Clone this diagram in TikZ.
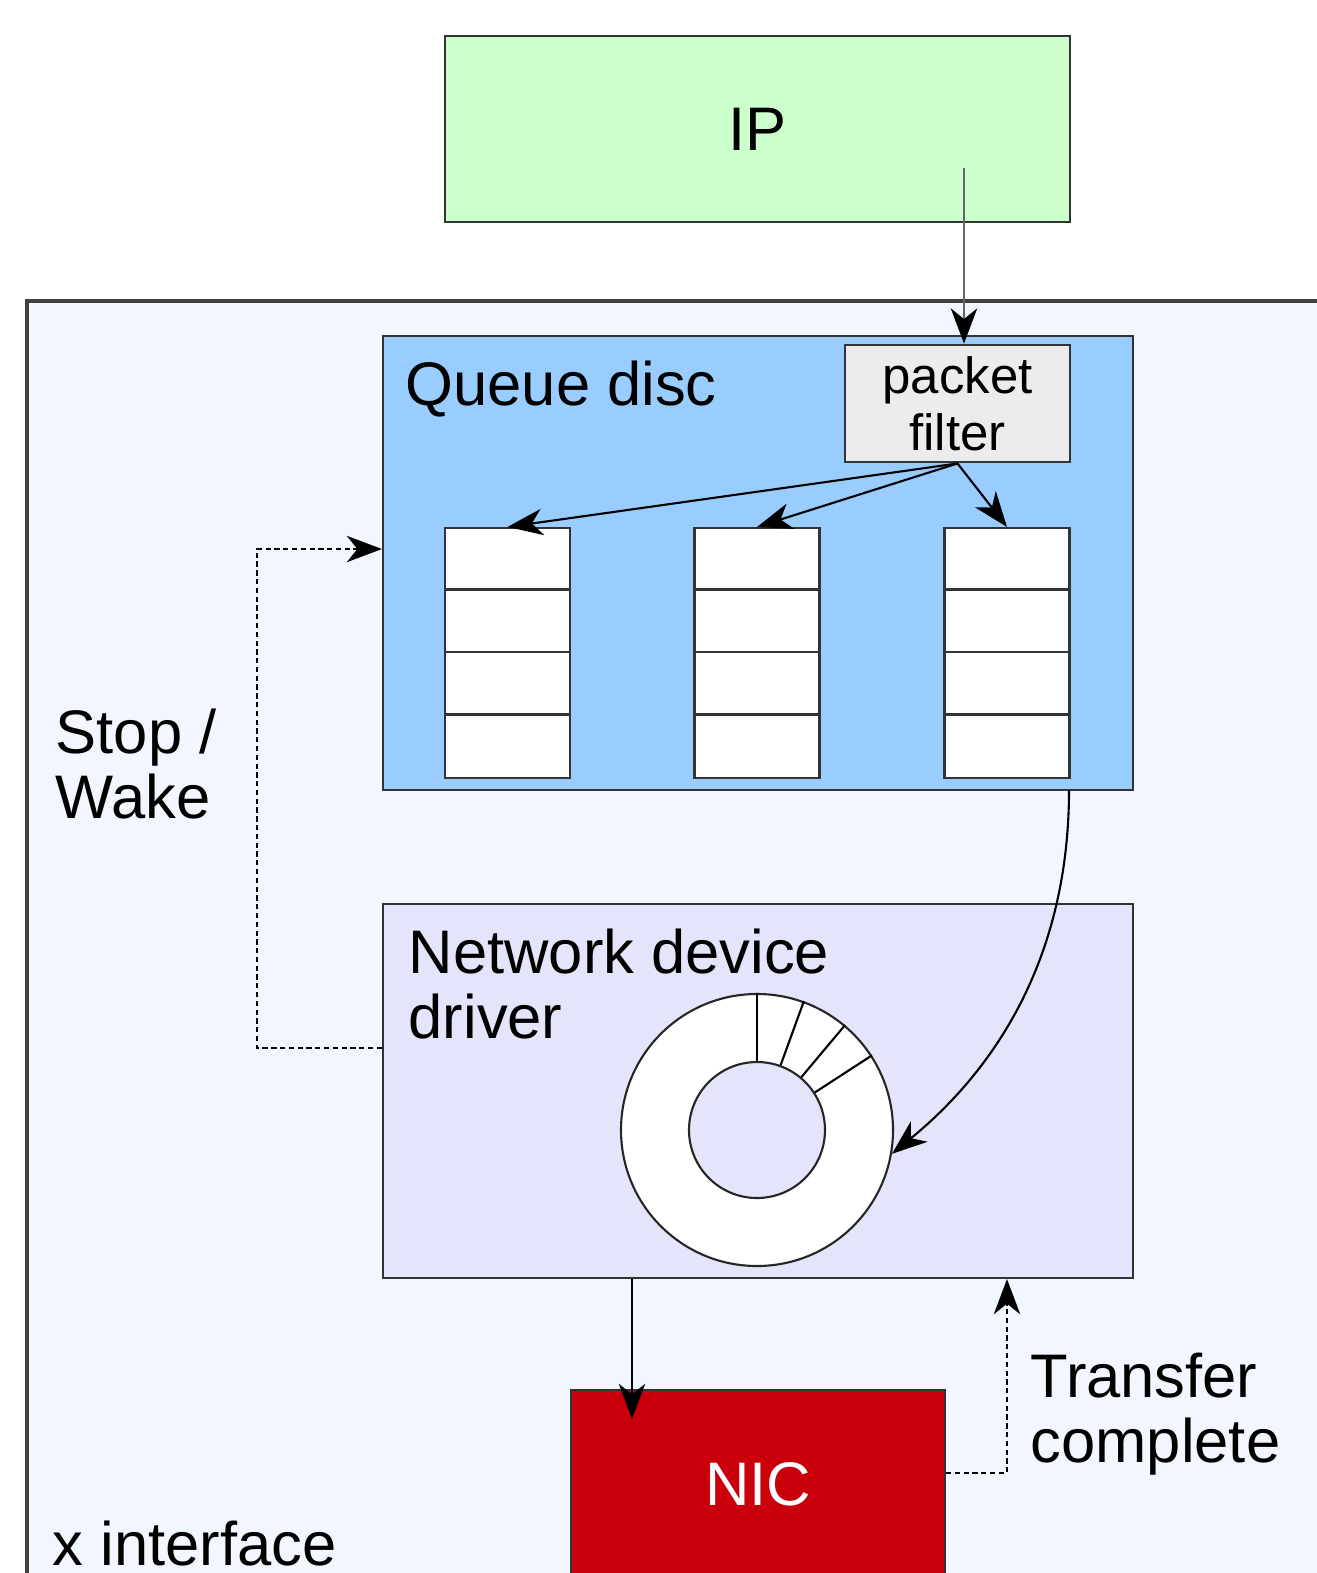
\documentclass[tikz,border=0pt]{standalone}
\usepackage{fontspec}
\setmainfont{Liberation Sans}
\usetikzlibrary{positioning}
\usetikzlibrary{arrows.meta}

\definecolor{ipgreen}{RGB}{204,255,204}
\definecolor{ifaceblue}{RGB}{242,246,254}
\definecolor{qdblue}{RGB}{153,204,255}
\definecolor{filtergray}{RGB}{236,236,236}
\definecolor{drvlilac}{RGB}{228,228,250}
\definecolor{nicred}{RGB}{201,0,12}

\begin{document}
\begin{tikzpicture} [
            box/.style={draw=black!80,rectangle,line width=0.6pt},
            flow/.style={-{Stealth[length=10pt,width=7.5pt,inset=3pt,color=black]},line width=0.6pt},
            sig/.style={-{Stealth[length=10pt,width=7.5pt,inset=3pt]},line width=0.6pt,dash pattern=on 1.5pt off 1pt},
            big/.style={font=\fontsize{17.5}{18.5}\selectfont},
         every node/.append style={align=center}]
\clip (0,0) rectangle (13.17,-15.73);
\draw[draw=black!75,line width=1pt,fill=ifaceblue] (0.27,-3.01) rectangle (14,-17);
\node (ip) at (7.575,-1.29) [box,fill=ipgreen,minimum width=6.25cm,minimum height=1.86cm,big] {IP}
node (qdisc) at (7.58,-5.63) [box,fill=qdblue,minimum width=7.5cm,minimum height=4.54cm] {}
node (pfilter) at (9.575,-4.035) [box,fill=filtergray,minimum width=2.25cm,minimum height=1.11cm,font=\fontsize{14.5}{16.2}\selectfont] {packet\\filter}
node (ndd) at (7.58,-10.91) [box,fill=drvlilac,minimum width=7.5cm,minimum height=3.74cm] {}
node (nic) at (7.58,-14.84) [box,fill=nicred,minimum width=3.74cm,minimum height=1.88cm,text=white,big] {NIC}
;
\foreach \i/\x in {1/5.075,2/7.57,3/10.07} {
  \node (q\i) at (\x,-6.53) [box,fill=white,minimum width=1.25cm,minimum height=2.5cm] {};
  \foreach \k in {1,2,3}
    \draw[black!80,line width=0.6pt] ([yshift=-\k*0.625cm]q\i.north west) -- ([yshift=-\k*0.625cm]q\i.north east);
}
\node (ring) at (7.57,-11.30) [circle,draw=black!85,fill=white,line width=0.6pt,minimum size=2.72cm] {};
\node (hub) at (ring.center) [circle,draw=black!85,fill=drvlilac,line width=0.6pt,minimum size=1.36cm] {};
\foreach \a in {90,70,50,33} \draw[line width=0.6pt] (hub.\a) -- (ring.\a);

\node (qlabel) at (4.05,-4.05) [anchor=base west,inner sep=0,big] {Queue disc};
\node (nlabel) at (4.08,-9.28) [anchor=north west,inner sep=0,big,align=left] {Network device\\driver};
\node (stop) at (0.55,-7.08) [anchor=north west,inner sep=0,big,align=left] {Stop /\\Wake};
\node (xfer) at (10.30,-13.52) [anchor=north west,inner sep=0,big,align=left] {Transfer\\complete};
\node (xif) at (0.52,-15.65) [anchor=base west,inner sep=0,big] {x interface};

\coordinate (ipout) at (9.64,-1.68);
\draw[flow,draw=black!60] (ipout) -- (ipout |- pfilter.north);
\foreach \i in {1,2,3} \draw[flow] (pfilter.south) -- (q\i.north);
\coordinate (qout) at (10.69,-7.90);
\draw[flow] (qout) .. controls +(0,-1.6) and +(1.1,0.9) .. (ring.350);
\draw[sig] ([yshift=0.43cm]ndd.west) -- ++(-1.25,0) |- ([yshift=0.14cm]qdisc.west);
\draw[flow] ([xshift=-1.26cm]ndd.south) -- ([xshift=-1.26cm,yshift=-0.3cm]nic.north);
\draw[sig] ([yshift=0.11cm]nic.east) -| ([xshift=2.49cm]ndd.south);
\end{tikzpicture}
\end{document}
